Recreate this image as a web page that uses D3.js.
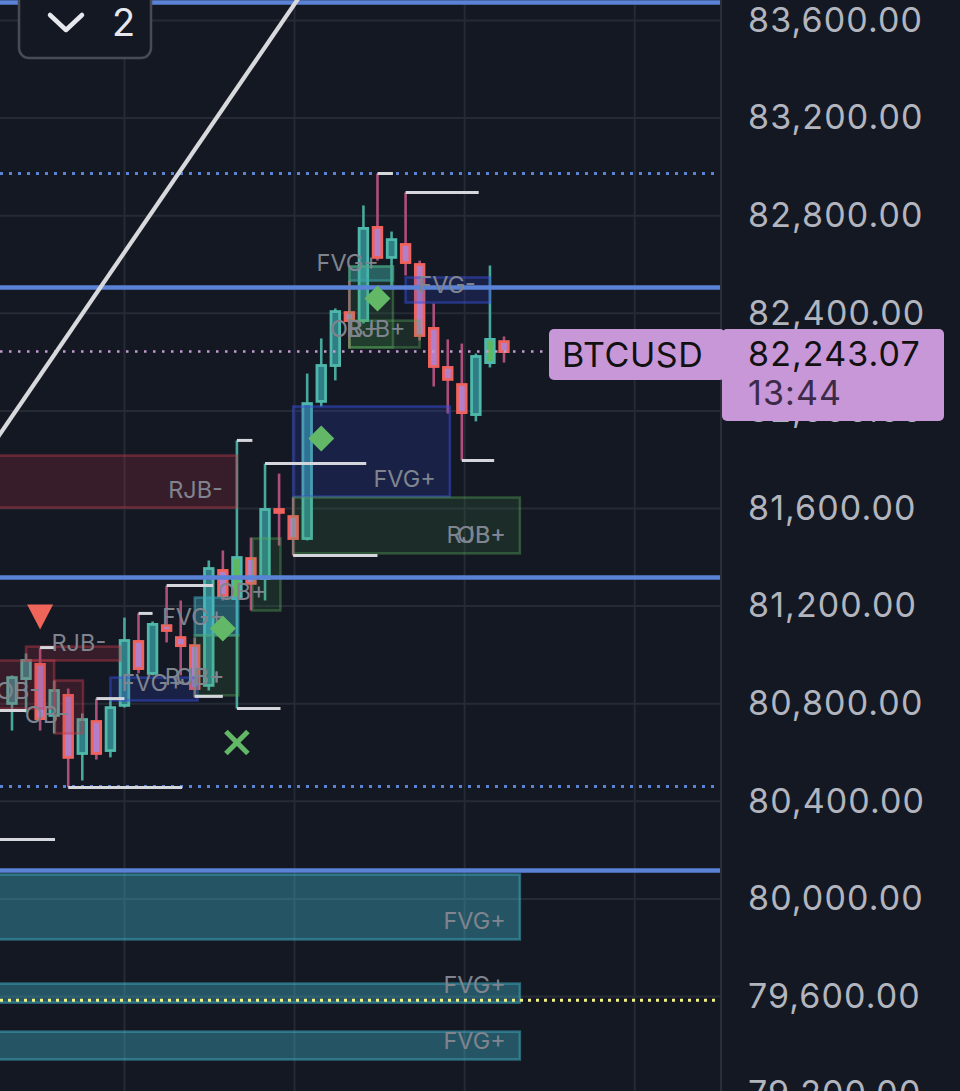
<!DOCTYPE html>
<html><head><meta charset="utf-8">
<script src="https://cdn.jsdelivr.net/npm/d3@7"></script>
<style>html,body{margin:0;padding:0;background:#141823;overflow:hidden}svg{display:block}</style>
</head><body>
<svg id="chart" width="960" height="1091"></svg>
<script>
// ---------- DATA ----------
const candleOpen  = [80801,80903,80961,80752,80834,80596,80727,80608,80793,81055,80924,81120,81071,81038,80875,81346,81231,81395,81313,81596,81567,81477,82039,82186,82403,82370,82752,82629,82682,82600,82338,82178,82108,81985,82198,82284];
const candleHigh  = [80916,81006,81030,80895,80862,80760,80821,80821,81153,81170,81137,81284,81223,81071,81387,81428,81879,81481,81784,81743,81645,82153,82297,82420,82534,82842,82973,82735,82895,82616,82440,82293,82276,82235,82596,82305];
const candleLow   = [80690,80764,80690,80678,80457,80485,80571,80580,80784,80924,80916,81051,80916,80825,80854,81223,80780,81182,81223,81448,81407,81469,82018,82125,82256,82358,82616,82510,82555,82289,82100,81989,81797,81957,82178,82198];
const candleClose = [80907,80977,80739,80854,80580,80735,80596,80784,81059,80944,81125,81100,81038,80862,81354,81243,81399,81293,81596,81584,81477,82030,82186,82407,82370,82748,82629,82702,82608,82309,82182,82129,81993,82223,82293,82243.07];
const greenBodyBars = [16, 34];

const priceTicks = [83600,83200,82800,82400,82000,81600,81200,80800,80400,80000,79600,79200];
const timeGridBars = [8, 20.1, 32.2, 44.3];

// zones: [startBar, endBar, top, bottom, kind, labels]
const zones = [
  [-3, 16, 81817, 81604, 'red', 'RJB-'],
  [20, 31.15, 82018, 81649, 'blue', 'FVG+'],
  [20, 36.13, 81645, 81416, 'green', 'RJB+|OB+'],
  [28, 34, 82547, 82444, 'blue', 'FVG-'],
  [24, 27.1, 82592, 82534, 'teal', 'FVG+'],
  [24, 27.1, 82592, 82260, 'green', 'OB+'],
  [24, 29, 82370, 82260, 'green', 'RJB+'],
  [1, 7.7, 81034, 80977, 'red', 'RJB-'],
  [-3, 3, 80977, 80780, 'red', 'OB-'],
  [3.06, 5.05, 80895, 80678, 'red', 'OB-'],
  [7, 13.2, 80907, 80813, 'blue', 'FVG+'],
  [13, 16.1, 81235, 81080, 'teal', 'FVG+'],
  [13, 16.1, 81080, 80834, 'green', 'RJB+|OB+'],
  [17.1, 19.1, 81477, 81182, 'green', 'OB+'],
  [-3, 36.13, 80100, 79834, 'teal', 'FVG+'],
  [-3, 36.13, 79653, 79575, 'teal', 'FVG+'],
  [-3, 36.13, 79456, 79342, 'teal', 'FVG+']
];

// swing levels: [startBar, endBar, price]
const swingLines = [
  [26, 27.1, 82973], [28, 33.2, 82895], [18, 25.2, 81784], [20, 26, 81407],
  [32, 34.3, 81797], [16, 17.1, 81879], [16, 19.1, 80780], [11, 14.3, 81284],
  [9, 10, 81170], [4, 12.1, 80457], [-2, 3.06, 80243], [2, 3, 81030],
  [13, 15, 80830], [-2, 1, 80772], [6, 8, 80821]
];

const blueSolidLevels = [83674, 82506, 81317, 80116];
const blueDottedLevels = [82973, 80461];
const yellowDottedLevels = [79585];
const lastPrice = 82243.07;
const countdown = "13:44";
const symbol = "BTCUSD";

const triangleMarks = [[2, 81157]];
const diamondMarks = [[15, 81108], [22, 81887], [26, 82461]];
const crossMarks = [[16, 80641]];
const trendPoints = [[10.52, 82862], [20.27, 83682]];

// ---------- SCALES ----------
const W = 960, H = 1091, plotRight = 720;
const x = d3.scaleLinear().domain([0, 35]).range([12, 504]);
const y = d3.scaleLinear().domain([83600, 79600]).range([20.5, 996.5]);

const svg = d3.select('#chart');
const font = "Inter, 'Noto Sans', sans-serif";
svg.append('rect').attr('width', W).attr('height', H).attr('fill', '#141823');

const defs = svg.append('defs');
defs.append('clipPath').attr('id', 'plot').append('rect')
  .attr('x', 0).attr('y', 0).attr('width', plotRight).attr('height', H);

const plot = svg.append('g').attr('clip-path', 'url(#plot)');

// grid
plot.append('g').selectAll('line').data(priceTicks).join('line')
  .attr('x1', 0).attr('x2', plotRight).attr('y1', d => y(d)).attr('y2', d => y(d))
  .attr('stroke', '#252a35').attr('stroke-width', 2);
plot.append('g').selectAll('line').data(timeGridBars).join('line')
  .attr('x1', d => x(d)).attr('x2', d => x(d)).attr('y1', 0).attr('y2', H)
  .attr('stroke', '#252a35').attr('stroke-width', 2);

// candles
const candles = d3.range(candleOpen.length).map(i => ({
  i, o: candleOpen[i], h: candleHigh[i], l: candleLow[i], c: candleClose[i]
}));
const cg = plot.append('g');
cg.selectAll('line').data(candles).join('line')
  .attr('x1', d => x(d.i)).attr('x2', d => x(d.i))
  .attr('y1', d => y(d.h)).attr('y2', d => y(d.l))
  .attr('stroke', d => d.c >= d.o ? '#48a89d' : '#ad4f7a').attr('stroke-width', 2.6);
cg.selectAll('rect').data(candles).join('rect')
  .attr('x', d => x(d.i) - 4.3).attr('width', 8.6)
  .attr('y', d => y(Math.max(d.o, d.c)))
  .attr('height', d => Math.max(2.5, Math.abs(y(d.o) - y(d.c))))
  .attr('fill', d => greenBodyBars.includes(d.i) ? '#5db860' : (d.c >= d.o ? '#2f7e86' : '#b37fc9'))
  .attr('stroke', d => d.c >= d.o ? '#4fb8aa' : '#f0625c').attr('stroke-width', 2.8);

// zones
const zoneStyle = {
  teal:  {fill: 'rgba(62,178,200,0.40)', stroke: 'rgba(62,170,190,0.55)'},
  blue:  {fill: 'rgba(50,70,200,0.22)', stroke: 'rgba(55,80,220,0.50)'},
  red:   {fill: 'rgba(180,50,65,0.22)', stroke: 'rgba(190,60,75,0.45)'},
  green: {fill: 'rgba(70,160,80,0.15)', stroke: 'rgba(90,170,90,0.40)'}
};
const zg = plot.append('g');
zg.selectAll('rect').data(zones).join('rect')
  .attr('x', d => x(d[0])).attr('width', d => x(d[1]) - x(d[0]))
  .attr('y', d => y(d[2])).attr('height', d => y(d[3]) - y(d[2]))
  .attr('fill', d => zoneStyle[d[4]].fill)
  .attr('stroke', d => zoneStyle[d[4]].stroke).attr('stroke-width', 2.5);

// level lines
plot.append('g').selectAll('line').data(blueSolidLevels).join('line')
  .attr('x1', 0).attr('x2', plotRight).attr('y1', d => y(d)).attr('y2', d => y(d))
  .attr('stroke', '#5a82d6').attr('stroke-width', 4.5);
plot.append('g').selectAll('line').data(blueDottedLevels).join('line')
  .attr('x1', 0).attr('x2', plotRight).attr('y1', d => y(d)).attr('y2', d => y(d))
  .attr('stroke', '#5a82d6').attr('stroke-width', 3).attr('stroke-dasharray', '3,6');
plot.append('g').selectAll('line').data(yellowDottedLevels).join('line')
  .attr('x1', 0).attr('x2', plotRight).attr('y1', d => y(d)).attr('y2', d => y(d))
  .attr('stroke', '#f2ef86').attr('stroke-width', 3).attr('stroke-dasharray', '3,5');
plot.append('line').attr('x1', 0).attr('x2', 549).attr('y1', y(lastPrice)).attr('y2', y(lastPrice))
  .attr('stroke', '#c39bd3').attr('stroke-width', 2.5).attr('stroke-dasharray', '2.5,6.5');

// swing lines
plot.append('g').selectAll('line').data(swingLines).join('line')
  .attr('x1', d => x(d[0])).attr('x2', d => x(d[1]))
  .attr('y1', d => y(d[2])).attr('y2', d => y(d[2]))
  .attr('stroke', '#d4d6dc').attr('stroke-width', 3);

// trend line (extended)
{
  const [p0, p1] = trendPoints;
  const slope = (p1[1] - p0[1]) / (p1[0] - p0[0]);
  const xa = -3, xb = 24;
  plot.append('line')
    .attr('x1', x(xa)).attr('y1', y(p0[1] + slope * (xa - p0[0])))
    .attr('x2', x(xb)).attr('y2', y(p0[1] + slope * (xb - p0[0])))
    .attr('stroke', '#d8d9dc').attr('stroke-width', 4.2);
}

// zone labels
const lg = plot.append('g').attr('font-family', font).attr('font-size', 23.5).attr('fill', '#7f848e');
zones.forEach(z => {
  z[5].split('|').forEach(t => {
    lg.append('text').attr('x', x(z[1]) - 14).attr('y', y(z[3]) - 10)
      .attr('text-anchor', 'end').text(t);
  });
});

// markers
plot.append('g').selectAll('path').data(triangleMarks).join('path')
  .attr('d', d => { const cx = x(d[0]), cy = y(d[1]); return `M${cx-13},${cy-12}L${cx+13},${cy-12}L${cx},${cy+13}Z`; })
  .attr('fill', '#f0655a');
plot.append('g').selectAll('path').data(diamondMarks).join('path')
  .attr('d', d => { const cx = x(d[0]), cy = y(d[1]), r = 13; return `M${cx},${cy-r}L${cx+r},${cy}L${cx},${cy+r}L${cx-r},${cy}Z`; })
  .attr('fill', '#62b866');
const xg = plot.append('g').attr('stroke', '#62b866').attr('stroke-width', 5);
crossMarks.forEach(d => {
  const cx = x(d[0]), cy = y(d[1]), r = 11;
  xg.append('line').attr('x1', cx - r).attr('y1', cy - r).attr('x2', cx + r).attr('y2', cy + r);
  xg.append('line').attr('x1', cx - r).attr('y1', cy + r).attr('x2', cx + r).attr('y2', cy - r);
});

// right axis
svg.append('line').attr('x1', plotRight + 1).attr('x2', plotRight + 1).attr('y1', 0).attr('y2', H)
  .attr('stroke', '#2a2e39').attr('stroke-width', 2);
const axis = d3.axisRight(y).tickValues(priceTicks).tickFormat(d3.format(',.2f')).tickSize(0).tickPadding(28);
const ag = svg.append('g').attr('transform', `translate(${plotRight},0)`).call(axis);
ag.select('.domain').remove();
ag.selectAll('text').attr('font-family', font).attr('font-size', 34).attr('letter-spacing', 1.1).attr('fill', '#b2b5be');

// price label boxes
svg.append('rect').attr('x', 549).attr('y', 329).attr('width', 176).attr('height', 51).attr('rx', 5).attr('fill', '#c897d8');
svg.append('text').attr('x', 562).attr('y', 367).attr('font-family', font).attr('font-size', 34).attr('letter-spacing', 0.6).attr('fill', '#111').text(symbol);
svg.append('rect').attr('x', 722).attr('y', 329).attr('width', 222).attr('height', 92).attr('rx', 5).attr('fill', '#c897d8');
svg.append('text').attr('x', 748).attr('y', 366).attr('font-family', font).attr('font-size', 34).attr('letter-spacing', 1.1).attr('fill', '#111').text(d3.format(',.2f')(lastPrice));
svg.append('text').attr('x', 748).attr('y', 405).attr('font-family', font).attr('font-size', 34).attr('letter-spacing', 1.1).attr('fill', '#3d2a48').text(countdown);

// collapse button
svg.append('rect').attr('x', 19).attr('y', -14).attr('width', 132).attr('height', 72).attr('rx', 10)
  .attr('fill', '#141823').attr('stroke', '#474b55').attr('stroke-width', 2.5);
svg.append('path').attr('d', 'M50,15L66,30L82,15').attr('fill', 'none')
  .attr('stroke', '#e6e8ee').attr('stroke-width', 4.5).attr('stroke-linecap', 'round').attr('stroke-linejoin', 'round');
svg.append('text').attr('x', 112).attr('y', 36).attr('font-family', font).attr('font-size', 38).attr('fill', '#e6e8ee').text('2');
</script>
</body></html>
